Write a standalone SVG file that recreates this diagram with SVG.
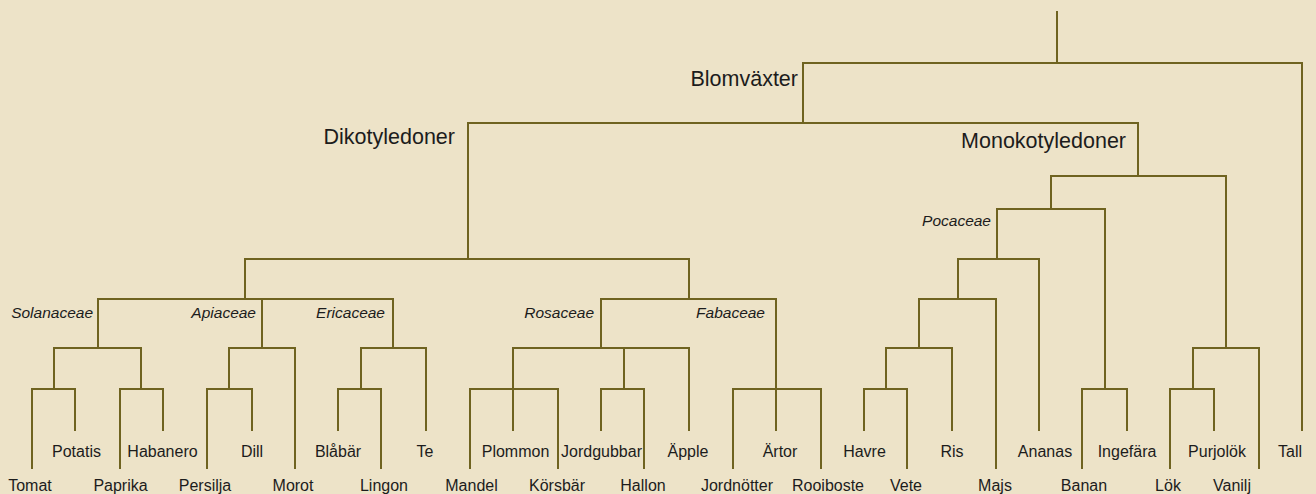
<svg xmlns="http://www.w3.org/2000/svg" width="1316" height="494" viewBox="0 0 1316 494">
<style>
.bg{fill:#ede3c8}
.c{fill:none;stroke:#6f6320;stroke-width:2;stroke-linecap:square}
text{font-family:"Liberation Sans",Arial,sans-serif;fill:#1c1c1c}
.leaf{font-size:16px;text-anchor:middle}
.fam{font-size:15.5px;font-style:italic;text-anchor:end}
.big{font-size:21.5px;text-anchor:end}
</style>
<rect class="bg" x="0" y="0" width="1316" height="494"/>
<g id="connectors" class="c">
<path d="M1057 12V63M803 63H1302M803 63V123M1302 63V430"/>
<path d="M468 123H1138M468 123V259M1138 123V176"/>
<path d="M245 259H689M245 259V299M689 259V299"/>
<path d="M98 299H393M98 299V348M262 299V348M393 299V348"/>
<path d="M54 348H141M54 348V389M141 348V389"/>
<path d="M32 389H75M32 389V468M75 389V430"/>
<path d="M120 389H163M120 389V468M163 389V430"/>
<path d="M229 348H295M229 348V389M295 348V468"/>
<path d="M207 389H252M207 389V468M252 389V430"/>
<path d="M361 348H426M361 348V389M426 348V430"/>
<path d="M338 389H381M338 389V430M381 389V468"/>
<path d="M601 299H776M601 299V348M776 299V430"/>
<path d="M513 348H689M513 348V430M624 348V389M689 348V430"/>
<path d="M470 389H558M470 389V468M558 389V468"/>
<path d="M601 389H644M601 389V430M644 389V468"/>
<path d="M733 389H821M733 389V468M821 389V468"/>
<path d="M1051 176H1226M1051 176V209M1226 176V348"/>
<path d="M997 209H1105M997 209V259M1105 209V389"/>
<path d="M958 259H1039M958 259V299M1039 259V430"/>
<path d="M919 299H996M919 299V348M996 299V468"/>
<path d="M886 348H952M886 348V389M952 348V430"/>
<path d="M864 389H907M864 389V430M907 389V468"/>
<path d="M1082 389H1127M1082 389V468M1127 389V430"/>
<path d="M1193 348H1259M1193 348V389M1259 348V468"/>
<path d="M1170 389H1214M1170 389V468M1214 389V430"/>
</g>
<g id="n-blomvaxter"><text class="big" x="798" y="86">Blomväxter</text></g>
<g id="n-dikotyledoner"><text class="big" x="455" y="144">Dikotyledoner</text></g>
<g id="n-monokotyledoner"><text class="big" x="1126" y="148">Monokotyledoner</text></g>
<g id="n-solanaceae"><text class="fam" x="93" y="318">Solanaceae</text></g>
<g id="n-apiaceae"><text class="fam" x="256" y="318">Apiaceae</text></g>
<g id="n-ericaceae"><text class="fam" x="385" y="318">Ericaceae</text></g>
<g id="n-rosaceae"><text class="fam" x="594" y="318">Rosaceae</text></g>
<g id="n-fabaceae"><text class="fam" x="765" y="318">Fabaceae</text></g>
<g id="n-pocaceae"><text class="fam" x="991" y="226">Pocaceae</text></g>
<g id="n-tomat"><text class="leaf" x="30" y="491">Tomat</text></g>
<g id="n-potatis"><text class="leaf" x="76.5" y="457">Potatis</text></g>
<g id="n-paprika"><text class="leaf" x="120.5" y="491">Paprika</text></g>
<g id="n-habanero"><text class="leaf" x="162.5" y="457">Habanero</text></g>
<g id="n-persilja"><text class="leaf" x="205" y="491">Persilja</text></g>
<g id="n-dill"><text class="leaf" x="252" y="457">Dill</text></g>
<g id="n-morot"><text class="leaf" x="293" y="491">Morot</text></g>
<g id="n-blabar"><text class="leaf" x="338" y="457">Blåbär</text></g>
<g id="n-lingon"><text class="leaf" x="384" y="491">Lingon</text></g>
<g id="n-te"><text class="leaf" x="425" y="457">Te</text></g>
<g id="n-mandel"><text class="leaf" x="471.5" y="491">Mandel</text></g>
<g id="n-plommon"><text class="leaf" x="515.5" y="457">Plommon</text></g>
<g id="n-korsbar"><text class="leaf" x="557" y="491">Körsbär</text></g>
<g id="n-jordgubbar"><text class="leaf" x="601.5" y="457">Jordgubbar</text></g>
<g id="n-hallon"><text class="leaf" x="643" y="491">Hallon</text></g>
<g id="n-apple"><text class="leaf" x="688" y="457">Äpple</text></g>
<g id="n-jordnotter"><text class="leaf" x="737" y="491">Jordnötter</text></g>
<g id="n-artor"><text class="leaf" x="780" y="457">Ärtor</text></g>
<g id="n-rooiboste"><text class="leaf" x="828" y="491">Rooiboste</text></g>
<g id="n-havre"><text class="leaf" x="864.5" y="457">Havre</text></g>
<g id="n-vete"><text class="leaf" x="906" y="491">Vete</text></g>
<g id="n-ris"><text class="leaf" x="952" y="457">Ris</text></g>
<g id="n-majs"><text class="leaf" x="995" y="491">Majs</text></g>
<g id="n-ananas"><text class="leaf" x="1045" y="457">Ananas</text></g>
<g id="n-banan"><text class="leaf" x="1084" y="491">Banan</text></g>
<g id="n-ingefara"><text class="leaf" x="1127" y="457">Ingefära</text></g>
<g id="n-lok"><text class="leaf" x="1168" y="491">Lök</text></g>
<g id="n-purjolok"><text class="leaf" x="1217" y="457">Purjolök</text></g>
<g id="n-vanilj"><text class="leaf" x="1232" y="491">Vanilj</text></g>
<g id="n-tall"><text class="leaf" x="1290" y="457">Tall</text></g>
</svg>
